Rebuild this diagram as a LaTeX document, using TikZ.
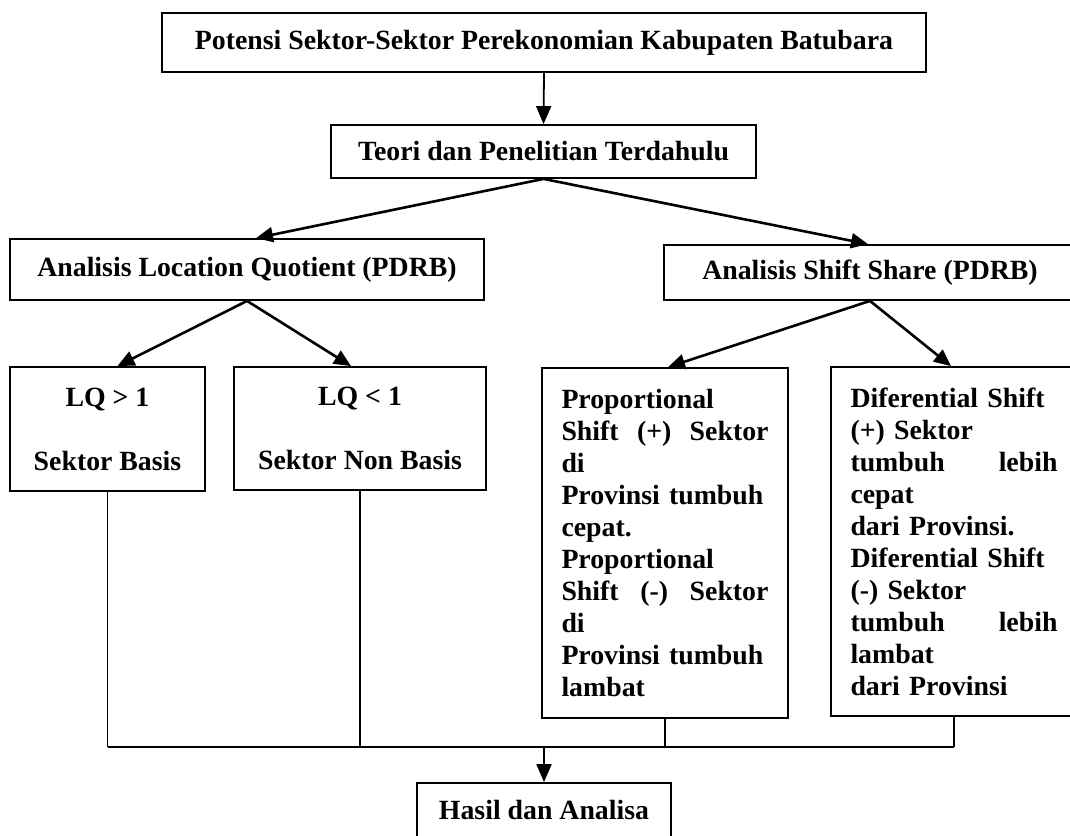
\documentclass[tikz,border=0pt]{standalone}
\usepackage{fontspec}
\setmainfont{Liberation Serif}
\usetikzlibrary{arrows.meta}
\newcommand{\jline}[1]{\leavevmode\hbox to 207pt{#1}}
\tikzset{
  box/.style={draw=black, line width=1.8pt, inner sep=0pt, align=center,
    font=\fontsize{27.8}{32}\selectfont\bfseries},
  arr/.style={line width=2.6pt, -{Triangle[length=17pt,width=15pt]}},
  varr/.style={line width=1.8pt, -{Triangle[length=18pt,width=15pt]}},
  feed/.style={line width=1.3pt},
  bus/.style={line width=2pt}
}
\begin{document}
\begin{tikzpicture}[x=1pt,y=-1pt]
\useasboundingbox (0,0) rectangle (1070,835);
\node[box, minimum width=764pt, minimum height=59pt] (top) at (544,42.5)
  {Potensi Sektor-Sektor Perekonomian Kabupaten Batubara};
\node[box, minimum width=425pt, minimum height=53pt] (teori) at (543.5,151.5)
  {Teori dan Penelitian Terdahulu};
\node[box, minimum width=474pt, minimum height=61pt] (lqa) at (247,269.5)
  {Analisis Location Quotient (PDRB)};
\node[box, minimum width=412pt, minimum height=55pt] (shift) at (870,272.5)
  {Analisis Shift Share (PDRB)};
\node[box, minimum width=195pt, minimum height=124pt] (lq1) at (107.5,429)
  {LQ > 1\\[32pt]Sektor Basis};
\node[box, minimum width=252pt, minimum height=123pt] (lq2) at (360,428.5)
  {LQ < 1\\[32pt]Sektor Non Basis};
\node[box, minimum width=246pt, minimum height=350pt, text width=207pt, align=left] (prop) at (665,543)
  {Proportional\\
   \jline{Shift\hfill(+)\hfill Sektor}\\
   di\\
   Provinsi tumbuh\\
   cepat.\\
   Proportional\\
   \jline{Shift\hfill(-)\hfill Sektor}\\
   di\\
   Provinsi tumbuh\\
   lambat};
\node[box, minimum width=246pt, minimum height=349pt, text width=207pt, align=left] (diff) at (954,541.5)
  {Diferential Shift\\
   (+) Sektor\\
   \jline{tumbuh\hfill lebih}\\
   cepat\\
   dari Provinsi.\\
   Diferential Shift\\
   (-) Sektor\\
   \jline{tumbuh\hfill lebih}\\
   lambat\\
   dari Provinsi};
\node[box, minimum width=254pt, minimum height=54pt] (hasil) at (544,810)
  {Hasil dan Analisa};
\coordinate (jm) at (544,747);
% connectors
\draw[varr] (top.south) -- (teori.north);
\draw[arr] (teori.south) -- ([xshift=9pt]lqa.north);
\draw[arr] (teori.south) -- ([xshift=-2pt]shift.north);
\draw[arr] (lqa.south) -- ([xshift=10pt]lq1.north);
\draw[arr] (lqa.south) -- ([xshift=-9pt]lq2.north);
\draw[arr] (shift.south) -- ([xshift=3pt]prop.north);
\draw[arr] (shift.south) -- ([xshift=-3pt]diff.north);
\draw[feed] (lq1.south) -- (lq1.south |- jm);
\draw[feed] (lq2.south) -- (lq2.south |- jm);
\draw[feed] (prop.south) -- (prop.south |- jm);
\draw[feed] (diff.south) -- (diff.south |- jm);
\draw[bus] (lq1.south |- jm) -- (diff.south |- jm);
\draw[varr] (jm) -- (hasil.north);
\end{tikzpicture}
\end{document}
